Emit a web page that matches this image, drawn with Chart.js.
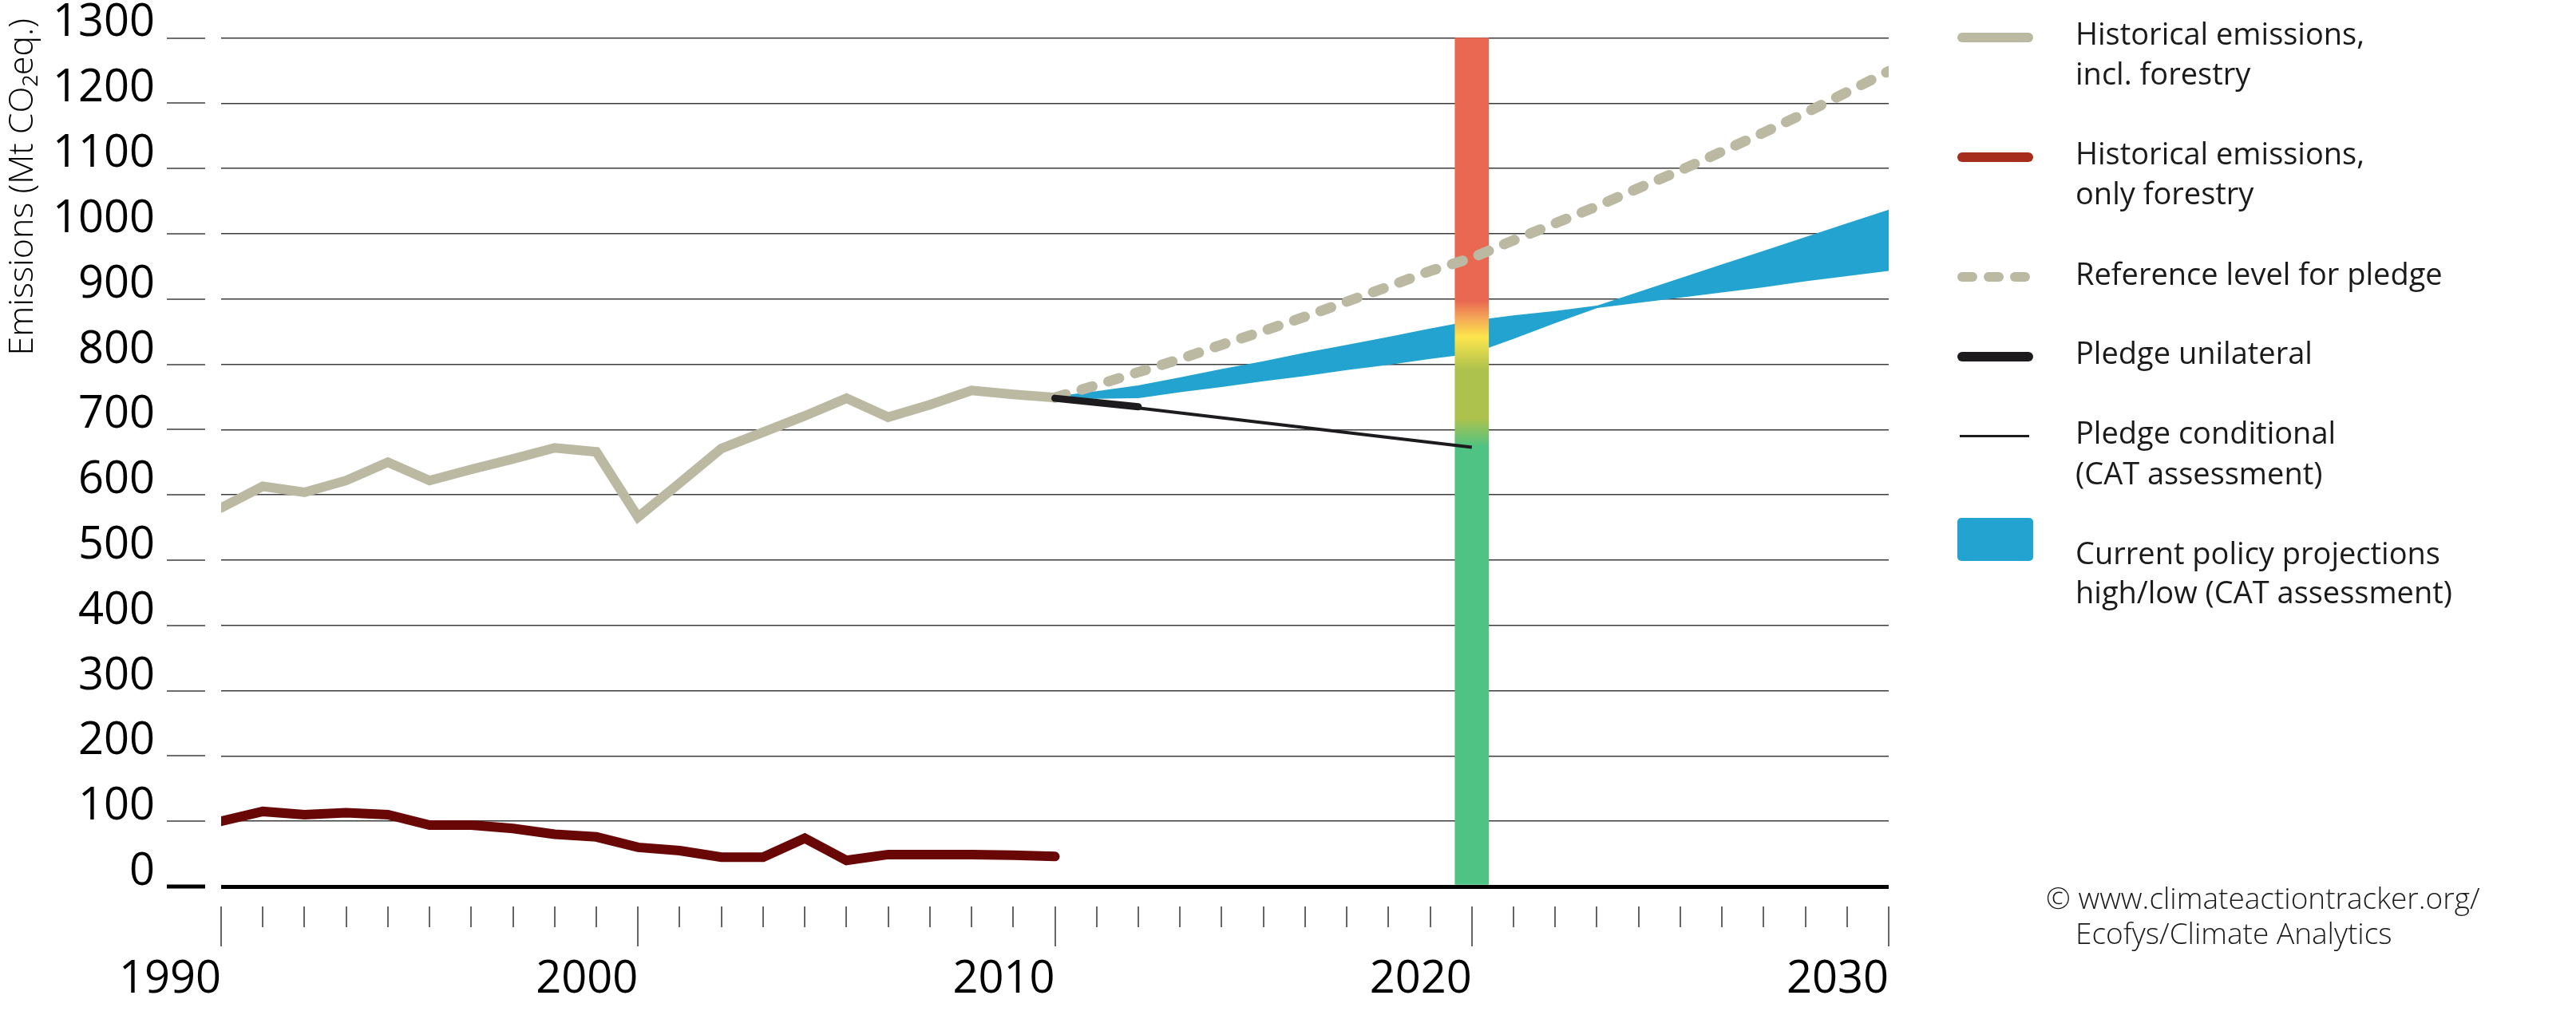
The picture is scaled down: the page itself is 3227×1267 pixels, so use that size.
<!DOCTYPE html>
<html>
<head>
<meta charset="utf-8">
<script src="https://cdn.jsdelivr.net/npm/chart.js@4.4.1/dist/chart.umd.min.js"></script>
<style>
  body { margin: 0; background: #fff; font-family: "Open Sans", sans-serif; }
  #page { position: relative; width: 3227px; height: 1267px; overflow: hidden; }
  #chartBox { position: absolute; left: 0; top: 0; width: 3227px; height: 1267px; }
  .sym { position: absolute; }
  .txt { position: absolute; left: 2600px; font-size: 38px; font-weight: 400; line-height: 50px; color: #1a1a1a; white-space: nowrap; }
  .copy { position: absolute; font-size: 37px; font-weight: 300; line-height: 44px; color: #1a1a1a; white-space: nowrap; }
</style>
</head>
<body>
<div id="page">
  <div id="chartBox"><canvas id="chart"></canvas></div>

  <div class="sym" style="left:2452px;top:41px;width:95px;height:12px;border-radius:6px;background:#bcb9a3"></div>
  <div class="txt" style="top:16px">Historical emissions,</div>
  <div class="txt" style="top:66px">incl. forestry</div>

  <div class="sym" style="left:2452px;top:191px;width:95px;height:12px;border-radius:6px;background:#a62c1b"></div>
  <div class="txt" style="top:166px">Historical emissions,</div>
  <div class="txt" style="top:216px">only forestry</div>

  <div class="sym" style="left:2452px;top:341px;width:25px;height:12px;border-radius:6px;background:#bcb9a3"></div>
  <div class="sym" style="left:2485px;top:341px;width:25px;height:12px;border-radius:6px;background:#bcb9a3"></div>
  <div class="sym" style="left:2518px;top:341px;width:25px;height:12px;border-radius:6px;background:#bcb9a3"></div>
  <div class="txt" style="top:317px">Reference level for pledge</div>

  <div class="sym" style="left:2452px;top:441px;width:95px;height:12px;border-radius:6px;background:#1d1b1e"></div>
  <div class="txt" style="top:416px">Pledge unilateral</div>

  <div class="sym" style="left:2455px;top:545px;width:87px;height:3px;background:#1d1b1e"></div>
  <div class="txt" style="top:516px">Pledge conditional</div>
  <div class="txt" style="top:567px">(CAT assessment)</div>

  <div class="sym" style="left:2452px;top:649px;width:95px;height:54px;border-radius:5px;background:#23a3d0"></div>
  <div class="txt" style="top:667px">Current policy projections</div>
  <div class="txt" style="top:716px">high/low (CAT assessment)</div>

  <div class="copy" style="left:2563px;top:1103px">© www.climateactiontracker.org/</div>
  <div class="copy" style="left:2600px;top:1147px">Ecofys/Climate Analytics</div>
</div>

<script>
// historical series, 1990-2010
const histYears = [1990, 1991, 1992, 1993, 1994, 1995, 1996, 1997, 1998, 1999, 2000,
                   2001, 2002, 2003, 2004, 2005, 2006, 2007, 2008, 2009, 2010];
const histInclForestry = [580, 613, 604, 622, 650, 622, 639, 655, 672, 666, 566,
                          618, 671, 696, 721, 748, 719, 738, 760, 754, 749];
const histOnlyForestry = [100, 115, 110, 113, 110, 94, 94, 89, 80, 76, 60,
                          55, 45, 45, 74, 40, 49, 49, 49, 48, 46];

// projections, 2010-2030
const projYears = [2010, 2011, 2012, 2013, 2014, 2015, 2016, 2017, 2018, 2019, 2020,
                   2021, 2022, 2023, 2024, 2025, 2026, 2027, 2028, 2029, 2030];
const referenceLevel = [749, 768, 788, 808, 830, 851, 873, 896, 919, 943, 963,
                        990, 1016, 1042, 1070, 1097, 1126, 1155, 1185, 1217, 1249];
const cppLow = [749, 757, 766, 778, 791, 803, 816, 828, 840, 853, 865,
                873, 880, 888, 896, 904, 912, 920, 929, 937, 945];
const cppHigh = [749, 749, 750, 759, 767, 776, 784, 793, 801, 810, 818,
                 841, 865, 888, 909, 930, 951, 972, 993, 1014, 1035];

const unilateralYears = [2010, 2012];
const unilateralValues = [748, 735];
const conditionalYears = [2010, 2020];
const conditionalValues = [748, 673];

// rating bar at 2020
const ratingYear = 2020;
const ratingRange = [0, 1300];

const yTicksMin = 0;
const yTicksMax = 1300;
const yTickStep = 100;
const xTickYears = [1990, 2000, 2010, 2020, 2030];

// colour stops of the rating bar (value, colour)
const ratingStopValues = [0, 673, 717, 792, 842, 873, 897, 1300];
const ratingStopColors = ['#4ec384', '#4ec384', '#adc24d', '#adc24d', '#fde54c', '#f3a256', '#ea6851', '#ea6851'];

const GREY = '#bcb9a3';
const MAROON = '#690606';
const BLACK = '#1d1b1e';
const BLUE = '#23a3d0';

function pts(xs, ys) {
    return xs.map((x, i) => ({x: x, y: ys[i]}));
}

function ratingGradient(context) {
    const chart = context.chart;
    const area = chart.chartArea;
    if (!area) return ratingStopColors[0];
    const yAx = chart.scales.y;
    const y0 = yAx.getPixelForValue(ratingRange[0]);
    const y1 = yAx.getPixelForValue(ratingRange[1]);
    const g = chart.ctx.createLinearGradient(0, y0, 0, y1);
    ratingStopValues.forEach((v, i) => {
        g.addColorStop((v - ratingRange[0]) / (ratingRange[1] - ratingRange[0]), ratingStopColors[i]);
    });
    return g;
}

// little tick stubs left of the grid and year ticks below the zero line
const axisMarks = {
    id: 'axisMarks',
    afterDraw(chart) {
        const {ctx, chartArea, scales} = chart;
        const yAx = scales.y;
        const xAx = scales.x;
        ctx.save();
        yAx.ticks.forEach(t => {
            const py = Math.round(yAx.getPixelForValue(t.value));
            ctx.lineWidth = t.value === 0 ? 5 : 1.5;
            ctx.strokeStyle = t.value === 0 ? '#000' : '#3c3c3c';
            ctx.beginPath();
            ctx.moveTo(chartArea.left - 68, py);
            ctx.lineTo(chartArea.left - 20, py);
            ctx.stroke();
        });
        ctx.lineWidth = 1.5;
        ctx.strokeStyle = '#333';
        for (let yr = xAx.min; yr <= xAx.max; yr++) {
            const px = Math.round(xAx.getPixelForValue(yr));
            const len = yr % 10 === 0 ? 50 : 26;
            ctx.beginPath();
            ctx.moveTo(px, chartArea.bottom + 25);
            ctx.lineTo(px, chartArea.bottom + 25 + len);
            ctx.stroke();
        }
        ctx.restore();
    }
};

const lineBase = {
    type: 'line',
    pointRadius: 0,
    tension: 0,
    fill: false,
    borderCapStyle: 'round',
    borderJoinStyle: 'miter'
};

const chartIns = new Chart(document.getElementById('chart').getContext('2d'), {
    type: 'line',
    data: {
        datasets: [
            Object.assign({}, lineBase, {
                label: 'Current policy projections low',
                data: pts(projYears, cppLow),
                borderColor: BLUE, borderWidth: 3, borderJoinStyle: 'round',
                order: 10
            }),
            Object.assign({}, lineBase, {
                label: 'Current policy projections high',
                data: pts(projYears, cppHigh),
                borderColor: BLUE, borderWidth: 3, borderJoinStyle: 'round',
                backgroundColor: BLUE,
                fill: '-1',
                order: 10
            }),
            {
                type: 'bar',
                label: 'Rating',
                data: [{x: ratingYear, y: ratingRange}],
                backgroundColor: ratingGradient,
                borderWidth: 0,
                barThickness: 42,
                grouped: false,
                order: 5
            },
            Object.assign({}, lineBase, {
                label: 'Historical emissions, only forestry',
                data: pts(histYears, histOnlyForestry),
                borderColor: MAROON, borderWidth: 12,
                order: 2
            }),
            Object.assign({}, lineBase, {
                label: 'Historical emissions, incl. forestry',
                data: pts(histYears, histInclForestry),
                borderColor: GREY, borderWidth: 12,
                order: 2
            }),
            Object.assign({}, lineBase, {
                label: 'Reference level for pledge',
                data: pts(projYears, referenceLevel),
                borderColor: GREY, borderWidth: 13,
                borderDash: [14, 21],
                order: 1
            }),
            Object.assign({}, lineBase, {
                label: 'Pledge conditional',
                data: pts(conditionalYears, conditionalValues),
                borderColor: BLACK, borderWidth: 4, borderCapStyle: 'butt',
                order: 1
            }),
            Object.assign({}, lineBase, {
                label: 'Pledge unilateral',
                data: pts(unilateralYears, unilateralValues),
                borderColor: BLACK, borderWidth: 9,
                order: 0
            })
        ]
    },
    options: {
        responsive: true,
        maintainAspectRatio: false,
        animation: false,
        events: [],
        layout: { padding: { top: 23, right: 861, bottom: 0, left: 0 } },
        plugins: {
            legend: { display: false },
            tooltip: { enabled: false }
        },
        scales: {
            x: {
                type: 'linear',
                min: xTickYears[0],
                max: xTickYears[xTickYears.length - 1],
                offset: false,
                grid: { display: false, offset: false, drawTicks: false },
                border: { display: false },
                afterBuildTicks: (scale) => {
                    scale.ticks = xTickYears.map(v => ({value: v}));
                },
                ticks: {
                    autoSkip: false,
                    maxRotation: 0,
                    align: 'end',
                    padding: 83,
                    color: '#000',
                    font: { family: 'Open Sans', size: 56 },
                    callback: (v) => String(v)
                },
                afterFit: (scale) => {
                    scale.height = 156;
                    scale.paddingLeft = 0;
                    scale.paddingRight = 0;
                }
            },
            y: {
                min: yTicksMin,
                max: 1330,
                grid: {
                    drawTicks: false,
                    color: (c) => c.tick && c.tick.value === 0 ? '#000' : '#3c3c3c',
                    lineWidth: (c) => c.tick && c.tick.value === 0 ? 5 : 1.5
                },
                border: { display: false },
                afterBuildTicks: (scale) => {
                    const t = [];
                    for (let v = yTicksMin; v <= yTicksMax; v += yTickStep) t.push({value: v});
                    scale.ticks = t;
                },
                ticks: {
                    padding: 83,
                    labelOffset: -18,
                    color: '#000',
                    font: { family: 'Open Sans', size: 56 },
                    callback: (v) => String(v)
                },
                title: {
                    display: true,
                    text: 'Emissions (Mt CO₂eq.)',
                    align: 'end',
                    color: '#000',
                    padding: { top: 3, bottom: 0 },
                    font: { family: 'Open Sans', size: 43, weight: 300 }
                },
                afterFit: (scale) => {
                    scale.width = 277;
                    scale.paddingTop = 0;
                    scale.paddingBottom = 0;
                }
            }
        }
    },
    plugins: [axisMarks]
});
</script>
</body>
</html>
